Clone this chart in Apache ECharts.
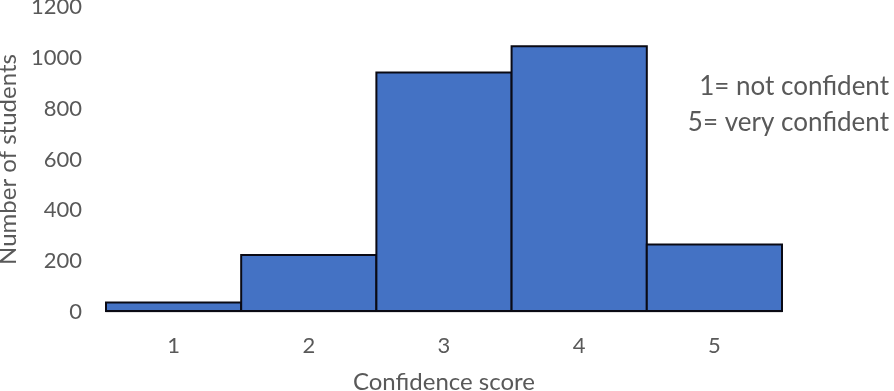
<!DOCTYPE html>
<html><head><meta charset="utf-8">
<script src="https://cdn.jsdelivr.net/npm/echarts@6/dist/echarts.min.js"></script>
<style>html,body{margin:0;padding:0;background:#fff}#c{width:894px;height:391px}</style>
</head><body><div id="c"></div>
<script>
const categories = ['1','2','3','4','5'];
const students = [41, 228, 946, 1050, 270];
const yTicks = {min: 0, max: 1200, interval: 200};
const noteLines = ['1= not confident', '5= very confident'];

const chart = echarts.init(document.getElementById('c'));
const txt = '#595959';
const font = 'Lato';
chart.setOption({
  animation: false,
  grid: {left: 106, right: 112, top: 7, bottom: 79, outerBoundsMode: 'none', containLabel: false},
  xAxis: {
    type: 'category', data: categories,
    axisLine: {lineStyle: {color: '#d9d9d9', width: 1.5}},
    axisTick: {show: false},
    axisLabel: {color: txt, fontSize: 22, fontFamily: font, margin: 23},
    name: 'Confidence score', nameLocation: 'middle', nameGap: 58,
    nameTextStyle: {color: txt, fontSize: 24, fontFamily: font}
  },
  yAxis: {
    type: 'value', min: yTicks.min, max: yTicks.max, interval: yTicks.interval,
    splitLine: {show: false},
    axisLine: {show: false}, axisTick: {show: false},
    axisLabel: {color: txt, fontSize: 22, fontFamily: font, margin: 24, formatter: v => String(v)},
    name: 'Number of students', nameLocation: 'middle', nameGap: 86,
    nameTextStyle: {color: txt, fontSize: 24, fontFamily: font}
  },
  series: [{
    type: 'bar', data: students, barCategoryGap: '0%', barWidth: '101.5%',
    itemStyle: {color: '#4472C4', borderColor: '#0a0a14', borderWidth: 2}
  }],
  graphic: noteLines.map((t, i) => ({
    type: 'text', right: 5, top: 74 + i * 36,
    style: {text: t, fill: txt, font: '26px ' + font, textAlign: 'right'}
  }))
});
</script></body></html>
